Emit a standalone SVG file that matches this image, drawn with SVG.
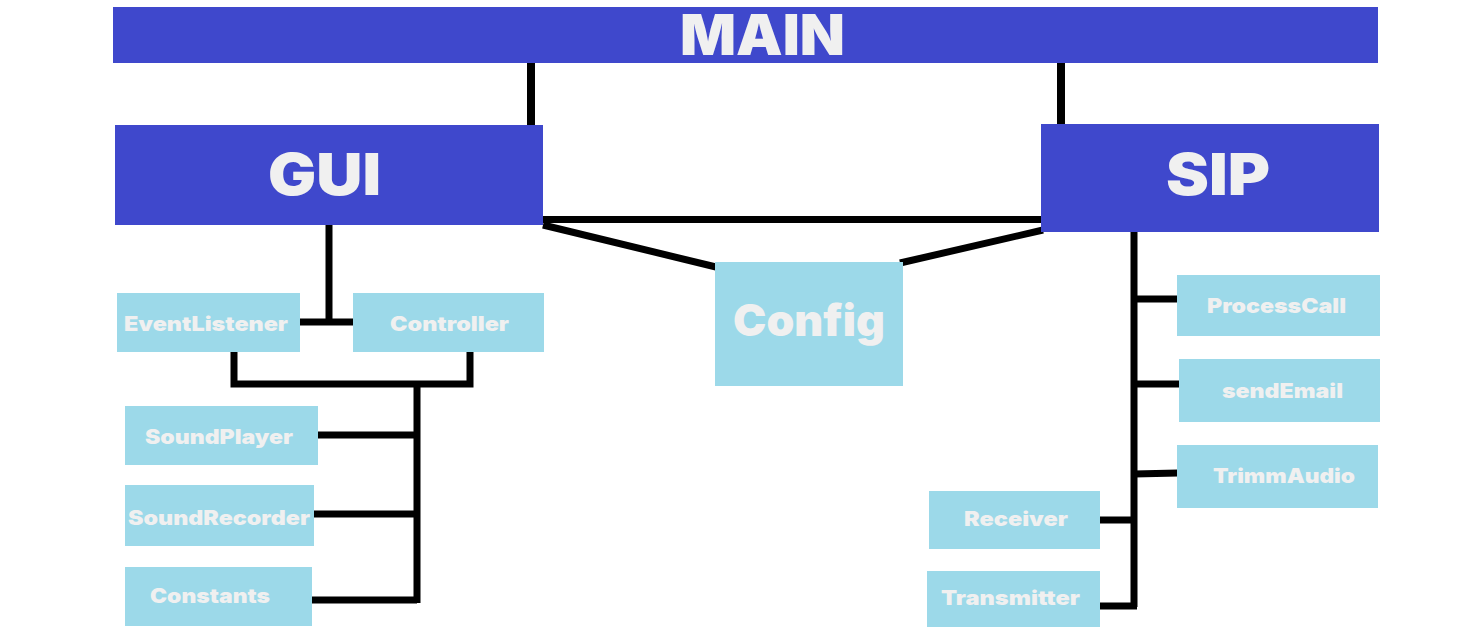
<svg xmlns="http://www.w3.org/2000/svg" width="1464" height="640" viewBox="0 0 1464 640">
<style>
.big{fill:#3F48CC}
.small{fill:#9CD9E9}
text{font-family:Inter,"Liberation Sans",Arial,sans-serif;font-weight:900;fill:#F0F0F0;text-anchor:middle}
.t1{font-size:56px}
.t2{font-size:58px}
.t3{font-size:44px}
.t4{font-size:20px}
.c{fill:none;stroke:#000;stroke-width:8}
.c2{fill:none;stroke:#000;stroke-width:7}
</style>
<rect width="1464" height="640" fill="#fff"/>
<g id="connectors">
<line class="c" x1="531" y1="63" x2="531" y2="126"/>
<line class="c" x1="1061" y1="63" x2="1061" y2="125"/>
<line class="c2" x1="543" y1="219.5" x2="1042" y2="219.5"/>
<line class="c2" x1="543" y1="225" x2="716" y2="267"/>
<line class="c2" x1="900" y1="263" x2="1043" y2="230"/>
<line class="c2" x1="329" y1="225" x2="329" y2="322"/>
<line class="c2" x1="299" y1="322" x2="354" y2="322"/>
<polyline class="c2" points="234,351 234,384 470,384 470,351"/>
<line class="c2" x1="417" y1="381" x2="417" y2="603"/>
<line class="c2" x1="318" y1="435" x2="417" y2="435"/>
<line class="c2" x1="314" y1="514" x2="417" y2="514"/>
<line class="c2" x1="312" y1="600" x2="417" y2="600"/>
<line class="c2" x1="1134" y1="232" x2="1134" y2="607"/>
<line class="c2" x1="1134" y1="299" x2="1177" y2="299"/>
<line class="c2" x1="1134" y1="384" x2="1180" y2="384"/>
<line class="c2" x1="1134" y1="474" x2="1178" y2="473"/>
<line class="c2" x1="1100" y1="520" x2="1134" y2="520"/>
<line class="c2" x1="1095" y1="606" x2="1137" y2="606"/>
</g>
<g id="main"><rect class="big" x="113" y="7" width="1265" height="56"/><text class="t1" x="762.5" y="55" textLength="165" lengthAdjust="spacingAndGlyphs">MAIN</text></g>
<g id="gui"><rect class="big" x="115" y="125" width="428" height="100"/><text class="t2" x="324.5" y="195" textLength="113" lengthAdjust="spacingAndGlyphs">GUI</text></g>
<g id="sip"><rect class="big" x="1041" y="124" width="338" height="108"/><text class="t2" x="1218" y="195" textLength="104" lengthAdjust="spacingAndGlyphs">SIP</text></g>
<g id="config"><rect class="small" x="715" y="262" width="188" height="124"/><text class="t3" x="809" y="336" textLength="152" lengthAdjust="spacingAndGlyphs">Config</text></g>
<g id="eventlistener"><rect class="small" x="117" y="293" width="183" height="59"/><text class="t4" x="206" y="331" textLength="164" lengthAdjust="spacingAndGlyphs">EventListener</text></g>
<g id="controller"><rect class="small" x="353" y="293" width="191" height="59"/><text class="t4" x="449.5" y="331" textLength="119" lengthAdjust="spacingAndGlyphs">Controller</text></g>
<g id="soundplayer"><rect class="small" x="125" y="406" width="193" height="59"/><text class="t4" x="219" y="444" textLength="148" lengthAdjust="spacingAndGlyphs">SoundPlayer</text></g>
<g id="soundrecorder"><rect class="small" x="125" y="485" width="189" height="61"/><text class="t4" x="219" y="525" textLength="182" lengthAdjust="spacingAndGlyphs">SoundRecorder</text></g>
<g id="constants"><rect class="small" x="125" y="567" width="187" height="59"/><text class="t4" x="210" y="603" textLength="120" lengthAdjust="spacingAndGlyphs">Constants</text></g>
<g id="processcall"><rect class="small" x="1177" y="275" width="203" height="61"/><text class="t4" x="1276.5" y="313" textLength="139" lengthAdjust="spacingAndGlyphs">ProcessCall</text></g>
<g id="sendemail"><rect class="small" x="1179" y="359" width="201" height="63"/><text class="t4" x="1282.5" y="398" textLength="121" lengthAdjust="spacingAndGlyphs">sendEmail</text></g>
<g id="trimmaudio"><rect class="small" x="1177" y="445" width="201" height="63"/><text class="t4" x="1284" y="483" textLength="142" lengthAdjust="spacingAndGlyphs">TrimmAudio</text></g>
<g id="receiver"><rect class="small" x="929" y="491" width="171" height="58"/><text class="t4" x="1016" y="526" textLength="104" lengthAdjust="spacingAndGlyphs">Receiver</text></g>
<g id="transmitter"><rect class="small" x="927" y="571" width="173" height="56"/><text class="t4" x="1010.5" y="605" textLength="139" lengthAdjust="spacingAndGlyphs">Transmitter</text></g>
</svg>
